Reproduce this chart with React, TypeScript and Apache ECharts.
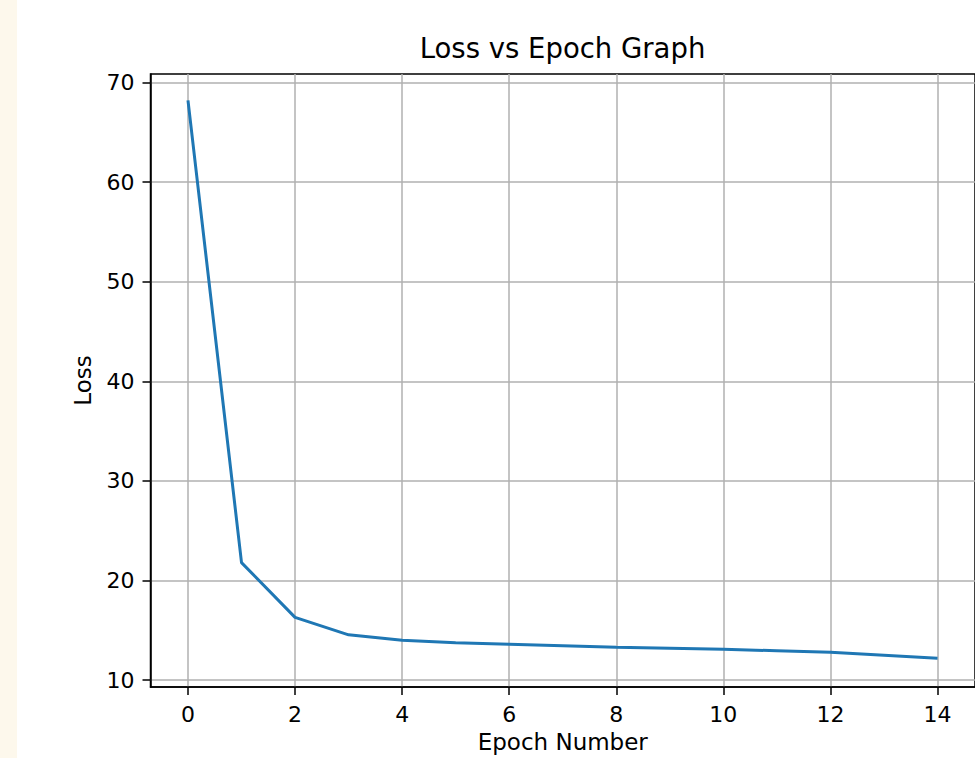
import React, { useEffect, useRef } from "react";
import * as echarts from "echarts";

const epochs = [0, 1, 2, 3, 4, 5, 6, 7, 8, 9, 10, 11, 12, 13, 14];
const loss = [68.2, 21.8, 16.3, 14.55, 14.0, 13.75, 13.6, 13.45, 13.3, 13.2, 13.1, 12.95, 12.8, 12.5, 12.2];
const xTicks = [0, 2, 4, 6, 8, 10, 12, 14];
const yTicks = [10, 20, 30, 40, 50, 60, 70];
const titleText = "Loss vs Epoch Graph";
const xName = "Epoch Number";
const yName = "Loss";

const FONT = "DejaVu Sans";

export default function App() {
  const ref = useRef<HTMLDivElement>(null);
  useEffect(() => {
    document.body.style.margin = "0";
    document.body.style.background = "#ffffff";
    if (!ref.current) return;
    const chart = echarts.init(ref.current, null, { renderer: "svg" });
    const data = epochs.map((e, i) => [e, loss[i]]);
    chart.setOption({
      animation: false,
      backgroundColor: "#ffffff",
      graphic: [
        {
          type: "rect",
          z: 0,
          shape: { x: 0, y: 0, width: 17, height: 758 },
          style: { fill: "#fdf8ec" },
        },
        {
          type: "text",
          x: 562.5,
          y: 48,
          style: {
            text: titleText,
            fontFamily: FONT,
            fontSize: 27.5,
            fill: "#000",
            align: "center",
            verticalAlign: "middle",
          },
        },
      ],
      grid: {
        show: true,
        left: 150.5,
        top: 74,
        bottom: 68,
        right: -1.5,
        borderColor: "#000",
        borderWidth: 1.5,
        backgroundColor: "transparent",
      },
      xAxis: {
        type: "value",
        min: -0.7,
        max: 14.7,
        name: xName,
        nameLocation: "middle",
        nameGap: 40,
        nameTextStyle: { fontFamily: FONT, fontSize: 23, color: "#000" },
        axisLine: { show: true, onZero: false, lineStyle: { color: "#000", width: 1.5 } },
        axisTick: {
          show: true,
          customValues: xTicks,
          length: 8,
          lineStyle: { color: "#000", width: 1.5 },
        },
        axisLabel: {
          customValues: xTicks,
          margin: 16,
          fontFamily: FONT,
          fontSize: 22,
          color: "#000",
        },
        splitLine: { show: true, lineStyle: { color: "#b0b0b0", width: 1.5 } },
      },
      yAxis: {
        type: "value",
        min: 9.3,
        max: 70.85,
        name: yName,
        nameLocation: "middle",
        nameGap: 56,
        nameTextStyle: { fontFamily: FONT, fontSize: 23, color: "#000" },
        axisLine: { show: true, onZero: false, lineStyle: { color: "#000", width: 1.5 } },
        axisTick: {
          show: true,
          customValues: yTicks,
          length: 8,
          lineStyle: { color: "#000", width: 1.5 },
        },
        axisLabel: {
          customValues: yTicks,
          margin: 16,
          fontFamily: FONT,
          fontSize: 22,
          color: "#000",
        },
        splitLine: { show: true, lineStyle: { color: "#b0b0b0", width: 1.5 } },
      },
      series: [
        {
          type: "line",
          data,
          symbol: "none",
          showSymbol: false,
          lineStyle: { color: "#1f77b4", width: 3 },
          itemStyle: { color: "#1f77b4" },
        },
      ],
    });
    return () => chart.dispose();
  }, []);
  return <div ref={ref} style={{ width: 975, height: 758 }} />;
}
